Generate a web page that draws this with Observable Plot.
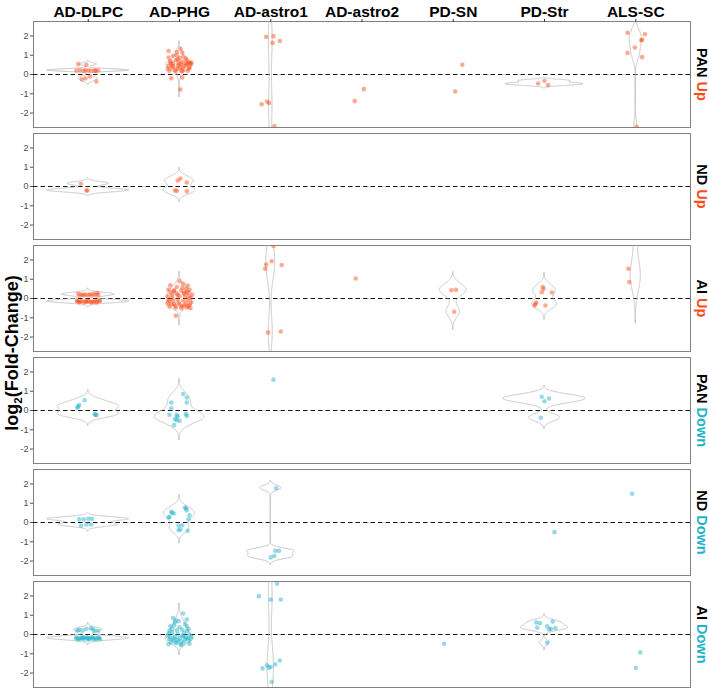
<!DOCTYPE html>
<html><head><meta charset="utf-8">
<script src="https://cdn.jsdelivr.net/npm/d3@7"></script>
<script src="https://cdn.jsdelivr.net/npm/@observablehq/plot@0.6"></script>
<style>body{margin:0;background:#fff}</style>
</head><body><div id="chart"></div>
<script>
const columns = ["AD-DLPC","AD-PHG","AD-astro1","AD-astro2","PD-SN","PD-Str","ALS-SC"];
const rowLabels = ["PAN Up","ND Up","AI Up","PAN Down","ND Down","AI Down"];
const yTicks = [-2,-1,0,1,2];
const dirColors = {Up: "#FF4A1A", Down: "#1FB3C8"};

// each point: [horizontal jitter (fraction of a category), log2 fold-change]
const panUp = {
  "AD-DLPC": [[-0.11,0.54],[-0.02,0.5],[-0.13,0.21],[-0.09,0.22],[-0.03,0.21],[0,0.2],[0.07,0.2],[0.11,0.21],[0.08,0.2],[0.03,0.21],[-0.05,0.2],[0.02,-0.1],[-0.03,-0.2],[-0.07,-0.25],[0.09,-0.36]],
  "AD-PHG": [[-0.12,1.22],[-0.03,1.17],[0.01,1.33],[0.03,1.14],[-0.12,0.88],[-0.07,0.97],[-0.02,0.79],[0.04,0.93],[0.07,0.83],[-0.1,0.62],[-0.07,0.57],[-0.01,0.62],[0.03,0.66],[0.09,0.54],[0.12,0.59],[0.1,0.62],[-0.12,0.45],[-0.08,0.36],[-0.02,0.45],[0.01,0.36],[0.04,0.28],[0.09,0.19],[-0.11,0.19],[-0.04,0.16],[0.03,0.17],[-0.09,-0.2],[0.03,-0.15],[0.01,-0.78],[-0.1,0.7],[-0.04,0.75],[0,0.5],[0.05,0.42],[0.11,0.35],[-0.13,0.3],[-0.05,0.25],[0.02,0.55],[0.07,0.6],[0.13,0.62],[-0.02,0.3],[0.08,0.72],[-0.09,0.52],[0,0.85],[-0.03,1.0],[0.07,0.48],[0.12,0.5],[-0.07,0.42],[0.02,0.2],[0.1,0.3]],
  "AD-astro1": [[-0.05,1.95],[0.03,1.99],[0.02,1.64],[0.1,1.74],[-0.1,-1.54],[-0.04,-1.4],[-0.02,-1.48],[0.04,-2.68]],
  "AD-astro2": [[0.02,-0.76],[-0.08,-1.38]],
  "PD-SN": [[0.1,0.5],[0.02,-0.88]],
  "PD-Str": [[0,-0.33],[-0.07,-0.47],[0.04,-0.55]],
  "ALS-SC": [[-0.09,2.16],[0.1,2.09],[0.07,1.8],[0.06,1.78],[-0.01,1.4],[-0.09,1.12],[0.07,0.9],[0.01,-2.72]]
};
const ndUp = {
  "AD-DLPC": [[-0.08,0.14],[-0.02,-0.21],[-0.01,-0.21]],
  "AD-PHG": [[-0.02,0.31],[0.01,0.41],[0.08,0.21],[-0.05,-0.21],[-0.03,-0.22],[0.08,-0.24]]
};
const aiUp = {
  "AD-DLPC": [[-0.11,0.24],[-0.07,0.21],[-0.03,0.2],[0,0.17],[0.04,0.15],[0.1,0.28],[0.11,0.2],[0.06,0.25],[-0.09,0.16],[0.02,0.22],[-0.05,0.17],[0.08,0.18],[-0.12,-0.12],[0.12,-0.1],[-0.12,-0.14],[-0.09,-0.17],[-0.05,-0.2],[-0.02,-0.18],[0.01,-0.15],[0.04,-0.17],[0.07,-0.12],[0.1,-0.16],[0.13,-0.13],[-0.07,-0.13],[-0.1,-0.19],[0.03,-0.21],[0.06,-0.18],[-0.03,-0.15],[0.09,-0.2],[-0.01,-0.12]],
  "AD-PHG": [[-0.1,0.69],[0,0.9],[0.04,0.76],[0.09,0.67],[-0.12,0.47],[-0.06,0.38],[0.03,0.55],[0.08,0.35],[-0.08,0.2],[-0.03,0.26],[0.05,0.24],[0.09,0.29],[0.14,0.2],[-0.11,-0.14],[-0.06,-0.28],[-0.01,-0.22],[0.05,-0.35],[0.1,-0.4],[-0.04,-0.48],[0.03,-0.4],[-0.04,-0.9],[-0.13,0.1],[-0.08,0.05],[0,0.12],[0.06,0.08],[0.12,0.02],[-0.1,0.32],[0.02,0.4],[0.11,0.45],[-0.03,0.6],[0.07,0.5],[-0.12,-0.05],[-0.07,-0.1],[-0.02,-0.06],[0.04,-0.12],[0.09,-0.08],[0.13,-0.2],[-0.09,-0.3],[0,-0.32],[0.07,-0.25],[-0.05,-0.38],[0.11,-0.3],[-0.11,-0.42],[0.02,-0.5],[0.08,-0.45],[-0.02,0.18],[0.05,0.3],[-0.06,0.42],[0.1,0.12],[-0.13,-0.25],[0.12,-0.5]],
  "AD-astro1": [[0.03,2.72],[-0.05,1.76],[-0.06,1.54],[0.01,1.93],[0.12,1.74],[-0.03,-1.76],[0.11,-1.71]],
  "AD-astro2": [[-0.07,1.04]],
  "PD-SN": [[-0.02,0.43],[0.03,0.45],[0.01,-0.69]],
  "PD-Str": [[-0.02,0.6],[-0.01,0.5],[-0.03,0.33],[0.08,0.31],[-0.09,-0.22],[-0.11,-0.36],[-0.1,-0.28],[0.01,-0.36]],
  "ALS-SC": [[-0.08,1.54],[-0.07,0.85],[0,3.5]]
};
const panDown = {
  "AD-DLPC": [[-0.12,0.15],[-0.11,0.2],[-0.1,0.28],[-0.04,0.53],[0.07,-0.19],[0.09,-0.24],[0.08,-0.22]],
  "AD-PHG": [[-0.09,0.41],[0.04,0.86],[0.08,0.67],[0.08,0.41],[-0.09,0.12],[-0.11,-0.22],[-0.03,-0.24],[0.07,-0.19],[0.08,-0.28],[-0.05,-0.45],[-0.03,-0.5],[0,-0.54],[-0.06,-0.76],[-0.02,-0.3]],
  "AD-astro1": [[0.03,1.6]],
  "PD-Str": [[-0.03,0.71],[0,0.48],[0.05,0.62],[-0.04,-0.38]]
};
const ndDown = {
  "AD-DLPC": [[-0.1,0.16],[-0.05,0.16],[0,0.19],[0.04,0.19],[-0.08,-0.17],[-0.02,-0.1],[0.03,-0.1]],
  "AD-PHG": [[-0.09,0.55],[-0.06,0.47],[-0.11,0.29],[0.06,0.78],[0.08,0.64],[0.11,0.38],[0.1,0.17],[-0.12,0.26],[-0.01,-0.17],[0.03,-0.14],[0.01,-0.36],[-0.01,-0.4],[0.09,-0.43],[-0.08,0.5],[0.07,0.72]],
  "AD-astro1": [[0.06,1.78],[0,-1.81],[0.04,-1.74],[0.05,-1.47],[0.09,-1.47]],
  "PD-Str": [[0.11,-0.5]],
  "ALS-SC": [[-0.04,1.49]]
};
const aiDown = {
  "AD-DLPC": [[-0.1,0.25],[-0.06,0.22],[-0.02,0.3],[0.03,0.33],[0.07,0.2],[0.11,0.18],[-0.12,0.2],[0.05,0.27],[-0.13,-0.15],[-0.1,-0.2],[-0.07,-0.16],[-0.04,-0.24],[-0.01,-0.18],[0.02,-0.22],[0.05,-0.16],[0.08,-0.2],[0.11,-0.14],[0.13,-0.23],[-0.11,-0.26],[-0.05,-0.14],[0,-0.27],[0.04,-0.13],[0.09,-0.25],[-0.08,-0.22],[0.06,-0.24],[-0.02,-0.14],[0.12,-0.18],[-0.13,-0.2],[0.01,-0.2],[-0.06,-0.19]],
  "AD-PHG": [[0.04,1.09],[-0.07,0.86],[-0.04,0.74],[0.08,0.78],[-0.01,0.69],[-0.1,0.43],[-0.06,0.48],[0.08,0.43],[-0.03,0.22],[0.03,0.25],[0.08,0.18],[-0.12,0.05],[-0.08,0.1],[-0.02,0.02],[0.05,0.08],[0.11,0],[-0.13,-0.08],[-0.1,-0.15],[-0.05,-0.12],[0,-0.2],[0.04,-0.1],[0.09,-0.18],[0.13,-0.1],[-0.11,-0.25],[-0.07,-0.3],[-0.02,-0.28],[0.02,-0.35],[0.06,-0.25],[0.1,-0.32],[-0.09,-0.4],[-0.04,-0.45],[0.01,-0.5],[0.05,-0.42],[0.11,-0.48],[-0.12,-0.5],[-0.06,-0.2],[0.03,-0.05],[0.07,-0.15],[-0.03,-0.38],[0.12,-0.22],[-0.08,0.3],[0,0.38],[0.06,0.55],[-0.11,0.2],[0.1,0.28],[-0.05,0.62],[0.02,-0.55]],
  "AD-astro1": [[0.07,2.63],[-0.13,1.99],[0,1.81],[0.11,1.81],[0.1,-1.35],[0.05,-1.55],[-0.04,-1.6],[0,-1.69],[-0.09,-1.76],[-0.02,-1.72],[0.01,-2.45]],
  "PD-SN": [[-0.1,-0.48]],
  "PD-Str": [[-0.09,0.62],[-0.05,0.59],[-0.08,0.35],[0.09,0.67],[0.03,0.43],[0.07,0.29],[0.12,0.33],[0.05,0.26],[0.03,-0.43]],
  "ALS-SC": [[0.05,-0.93],[0,-1.73]]
};
const rowData = [panUp, ndUp, aiUp, panDown, ndDown, aiDown];

// ggplot-like violin statistic (gaussian KDE, bw.nrd0, untrimmed, area scaling per panel)
function bwNrd0(v) {
  const s = v.slice().sort(d3.ascending);
  const hi = d3.deviation(s);
  const iqr = d3.quantileSorted(s, 0.75) - d3.quantileSorted(s, 0.25);
  let lo = Math.min(hi, iqr / 1.34);
  if (!lo) lo = hi || Math.abs(s[0]) || 1;
  return 0.9 * lo * Math.pow(s.length, -0.2);
}
function kde(v, bw, lo, hi, n = 512) {
  const out = [];
  const c = 1 / (v.length * bw * Math.sqrt(2 * Math.PI));
  for (let i = 0; i < n; i++) {
    const y = lo + (hi - lo) * i / (n - 1);
    let s = 0;
    for (const xi of v) { const u = (y - xi) / bw; s += Math.exp(-0.5 * u * u); }
    out.push({y, d: s * c});
  }
  return out;
}

const points = [], violins = [];
rowLabels.forEach((row, ri) => {
  const data = rowData[ri];
  const dir = row.split(" ")[1];
  const dens = [];
  columns.forEach((col, ci) => {
    const g = data[col] || [];
    g.forEach(([j, y]) => points.push({row, dir, x: ci + 1 + j, y}));
    if (g.length >= 3) {
      const ys = g.map(d => d[1]);
      const bw = bwNrd0(ys);
      dens.push({col, ci, grid: kde(ys, bw, d3.min(ys) - 3 * bw, d3.max(ys) + 3 * bw)});
    }
  });
  const mx = d3.max(dens, d => d3.max(d.grid, g => g.d));
  dens.forEach(({col, ci, grid}) => grid.forEach(g => violins.push({
    row, key: row + "|" + col, y: g.y,
    x1: ci + 1 - 0.45 * g.d / mx, x2: ci + 1 + 0.45 * g.d / mx
  })));
});

const font = "Liberation Sans, Arial, Helvetica, sans-serif";
const chart = Plot.plot({
  width: 709, height: 691,
  marginLeft: 33, marginRight: 19, marginTop: 19, marginBottom: 3,
  style: {fontFamily: font, background: "#fff"},
  x: {domain: [0.4, 7.6]},
  y: {domain: [-2.75, 2.75]},
  fy: {domain: rowLabels, paddingInner: 0.055, paddingOuter: 0, axis: null, label: null},
  color: {domain: ["Up", "Down"], range: [dirColors.Up, dirColors.Down]},
  marks: [
    Plot.frame({stroke: "#808080", strokeWidth: 1}),
    Plot.ruleY([0], {stroke: "#111", strokeWidth: 1.1, strokeDasharray: "4.5,3"}),
    Plot.areaX(violins, {y: "y", x1: "x1", x2: "x2", z: "key", fy: "row", fill: "none", stroke: "#bdbdbd", strokeWidth: 0.9, clip: true}),
    Plot.dot(points, {x: "x", y: "y", fy: "row", r: 2.3, fill: "dir", fillOpacity: 0.47, stroke: null, clip: true}),
    Plot.axisX({anchor: "top", ticks: d3.range(1, columns.length + 1), tickFormat: i => columns[i - 1], tickSize: 3, tickPadding: 2, fontSize: 15.5, fontWeight: "bold", color: "#000", stroke: "#333", label: null}),
    Plot.axisY({ticks: yTicks, tickSize: 3, tickPadding: 2, fontSize: 9, color: "#4d4d4d", label: null, tickFormat: d => String(d)}),
    Plot.text(rowLabels, {fy: d => d, text: d => d, frameAnchor: "right", textAnchor: "middle", dx: 11, rotate: 90, fontSize: 14.5, fontWeight: "bold", fill: "#000"})
  ]
});

// colour the direction word in each strip label
chart.querySelectorAll("text").forEach(t => {
  const s = t.textContent;
  if (rowLabels.includes(s)) {
    const [a, b] = s.split(" ");
    t.textContent = "";
    const t1 = document.createElementNS("http://www.w3.org/2000/svg", "tspan");
    t1.textContent = a + "\u00a0";
    t1.setAttribute("fill", "#000");
    const t2 = document.createElementNS("http://www.w3.org/2000/svg", "tspan");
    t2.textContent = b;
    t2.setAttribute("fill", dirColors[b]);
    t.appendChild(t1); t.appendChild(t2);
  }
});

// y title
const svg = d3.select(chart);
const yt = svg.append("text")
  .attr("transform", "translate(17.5,353) rotate(-90)")
  .attr("text-anchor", "middle")
  .attr("font-family", font).attr("font-size", 18).attr("font-weight", "bold").attr("fill", "#000");
yt.append("tspan").text("log");
yt.append("tspan").attr("font-size", 11.5).attr("dy", 4).text("2");
yt.append("tspan").attr("dy", -4).text("(Fold-Change)");

document.getElementById("chart").appendChild(chart);
</script>
</body></html>
